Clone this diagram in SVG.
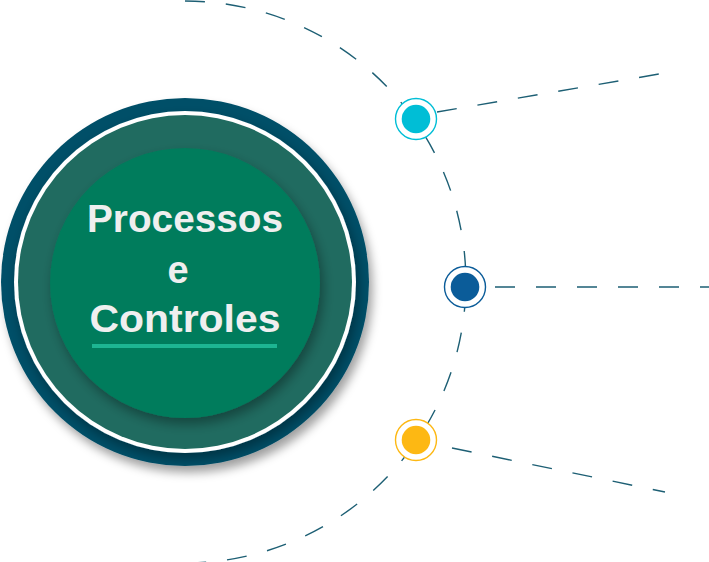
<svg xmlns="http://www.w3.org/2000/svg" width="709" height="562" viewBox="0 0 709 562">
<defs>
<filter id="sh" x="-20%" y="-20%" width="140%" height="140%">
<feDropShadow dx="4" dy="7" stdDeviation="5" flood-color="#000" flood-opacity="0.35"/>
</filter>
<filter id="sh2" x="-20%" y="-20%" width="140%" height="140%">
<feDropShadow dx="3" dy="6" stdDeviation="6" flood-color="#000" flood-opacity="0.35"/>
</filter>
</defs>
<style>
.dash{fill:none;stroke:#1d5f74;stroke-width:1.4;stroke-dasharray:20 21}
.ttl{font-family:"Liberation Sans",Arial,sans-serif;font-weight:bold;font-size:38px;fill:#efefef;text-anchor:middle}
.ring{fill:#fff;stroke-width:1.4}
</style>
<rect width="709" height="562" fill="#fff"/>
<g id="connectors">
<path class="dash" d="M185,1 A281,281 0 0 1 185,563"/>
<line class="dash" x1="437" y1="112" x2="665" y2="73"/>
<line class="dash" x1="495" y1="287" x2="709" y2="287"/>
<line class="dash" x1="452" y1="448" x2="665" y2="492"/>
</g>
<g id="hub">
<circle cx="185" cy="282" r="184" fill="#034f68" filter="url(#sh)"/>
<circle cx="185" cy="282" r="171" fill="#ffffff" filter="url(#sh2)"/>
<circle cx="185" cy="282" r="167" fill="#206b60"/>
<circle cx="185" cy="283" r="135" fill="#017b5b" filter="url(#sh2)"/>
<text class="ttl" x="185" y="232" textLength="196" lengthAdjust="spacingAndGlyphs">Processos</text>
<text class="ttl" x="178" y="283">e</text>
<text class="ttl" x="185" y="332" textLength="191" lengthAdjust="spacingAndGlyphs">Controles</text>
<rect x="92" y="344" width="185" height="4" fill="#1db592"/>
</g>
<g id="node-cyan">
<circle class="ring" cx="416" cy="119" r="20.5" stroke="#00bed6"/>
<circle cx="416" cy="119" r="14.3" fill="#00bed6"/>
</g>
<g id="node-blue">
<circle class="ring" cx="465" cy="287" r="20.5" stroke="#0b5c99"/>
<circle cx="465" cy="287" r="14.3" fill="#0b5c99"/>
</g>
<g id="node-yellow">
<circle class="ring" cx="416" cy="440" r="20.5" stroke="#fdb813"/>
<circle cx="416" cy="440" r="14.3" fill="#fdb813"/>
</g>
</svg>
